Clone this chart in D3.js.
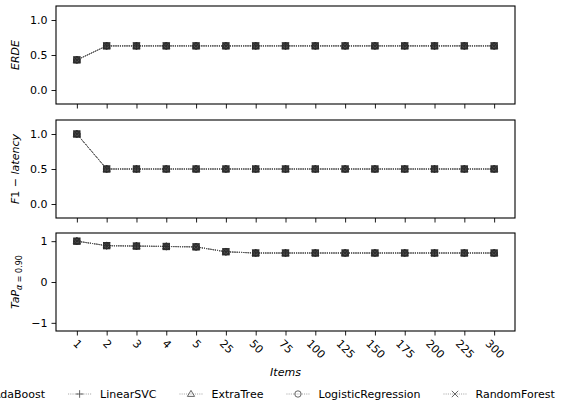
<!DOCTYPE html>
<html>
<head>
<meta charset="utf-8">
<script src="https://cdn.jsdelivr.net/npm/d3@7"></script>
<style>
  html, body { margin: 0; padding: 0; background: #fff; }
  svg { display: block; font-family: "DejaVu Sans", sans-serif; }
</style>
</head>
<body>
<svg id="chart" width="582" height="407"></svg>
<script>
// Number of items read before the decision
const items = ["1", "2", "3", "4", "5", "25", "50", "75", "100", "125", "150", "175", "200", "225", "300"];
const models = ["AdaBoost", "LinearSVC", "ExtraTree", "LogisticRegression", "RandomForest"];

// ERDE per model (rows follow `models`)
const erdeByModel = [
  [0.43, 0.63, 0.63, 0.63, 0.63, 0.63, 0.63, 0.63, 0.63, 0.63, 0.63, 0.63, 0.63, 0.63, 0.63],
  [0.43, 0.63, 0.63, 0.63, 0.63, 0.63, 0.63, 0.63, 0.63, 0.63, 0.63, 0.63, 0.63, 0.63, 0.63],
  [0.43, 0.63, 0.63, 0.63, 0.63, 0.63, 0.63, 0.63, 0.63, 0.63, 0.63, 0.63, 0.63, 0.63, 0.63],
  [0.43, 0.63, 0.63, 0.63, 0.63, 0.63, 0.63, 0.63, 0.63, 0.63, 0.63, 0.63, 0.63, 0.63, 0.63],
  [0.43, 0.63, 0.63, 0.63, 0.63, 0.63, 0.63, 0.63, 0.63, 0.63, 0.63, 0.63, 0.63, 0.63, 0.63]
];
// F1 - latency per model
const f1LatencyByModel = [
  [1.0, 0.5, 0.5, 0.5, 0.5, 0.5, 0.5, 0.5, 0.5, 0.5, 0.5, 0.5, 0.5, 0.5, 0.5],
  [1.0, 0.5, 0.5, 0.5, 0.5, 0.5, 0.5, 0.5, 0.5, 0.5, 0.5, 0.5, 0.5, 0.5, 0.5],
  [1.0, 0.5, 0.5, 0.5, 0.5, 0.5, 0.5, 0.5, 0.5, 0.5, 0.5, 0.5, 0.5, 0.5, 0.5],
  [1.0, 0.5, 0.5, 0.5, 0.5, 0.5, 0.5, 0.5, 0.5, 0.5, 0.5, 0.5, 0.5, 0.5, 0.5],
  [1.0, 0.5, 0.5, 0.5, 0.5, 0.5, 0.5, 0.5, 0.5, 0.5, 0.5, 0.5, 0.5, 0.5, 0.5]
];
// TaP (alpha = 0.90) per model
const tapByModel = [
  [1.0, 0.89, 0.88, 0.87, 0.86, 0.74, 0.71, 0.71, 0.71, 0.71, 0.71, 0.71, 0.71, 0.71, 0.71],
  [1.0, 0.89, 0.88, 0.87, 0.86, 0.74, 0.71, 0.71, 0.71, 0.71, 0.71, 0.71, 0.71, 0.71, 0.71],
  [1.0, 0.89, 0.88, 0.87, 0.86, 0.74, 0.71, 0.71, 0.71, 0.71, 0.71, 0.71, 0.71, 0.71, 0.71],
  [1.0, 0.89, 0.88, 0.87, 0.86, 0.74, 0.71, 0.71, 0.71, 0.71, 0.71, 0.71, 0.71, 0.71, 0.71],
  [1.0, 0.89, 0.88, 0.87, 0.86, 0.74, 0.71, 0.71, 0.71, 0.71, 0.71, 0.71, 0.71, 0.71, 0.71]
];

const erdeTicks = [0.0, 0.5, 1.0];
const f1Ticks = [0.0, 0.5, 1.0];
const tapTicks = [-1, 0, 1];

const svg = d3.select("#chart");
const FONT = 11;
const markerColor = "#2a2a2a";
const lineColor = "#555";

const left = 56, right = 515;
const x = d3.scaleLinear().domain([-0.7, items.length - 1 + 0.7]).range([left, right]);

const panels = [
  { data: erdeByModel, ticks: erdeTicks, domain: [-0.2, 1.2], top: 6, bottom: 104, fmt: d3.format(".1f"), label: "erde" },
  { data: f1LatencyByModel, ticks: f1Ticks, domain: [-0.2, 1.2], top: 120, bottom: 218, fmt: d3.format(".1f"), label: "f1" },
  { data: tapByModel, ticks: tapTicks, domain: [-1.2, 1.2], top: 233, bottom: 331, fmt: d => d < 0 ? "\u2212" + Math.abs(d) : String(d), label: "tap" }
];

// marker shapes, centred at origin
function drawMarker(g, kind) {
  const s = 3.2;
  const st = { stroke: markerColor, "stroke-width": 0.9, fill: "none" };
  const apply = sel => { Object.entries(st).forEach(([k, v]) => sel.attr(k, v)); return sel; };
  if (kind === 0) {
    apply(g.append("rect").attr("x", -s).attr("y", -s).attr("width", 2 * s).attr("height", 2 * s)).attr("fill", "#6a6a6a");
  } else if (kind === 1) {
    apply(g.append("path").attr("d", `M${-s - 0.6},0H${s + 0.6}M0,${-s - 0.6}V${s + 0.6}`));
  } else if (kind === 2) {
    apply(g.append("path").attr("d", `M0,${-s - 0.4}L${s + 0.4},${s * 0.75}L${-s - 0.4},${s * 0.75}Z`));
  } else if (kind === 3) {
    apply(g.append("circle").attr("r", s));
  } else {
    apply(g.append("path").attr("d", `M${-s},${-s}L${s},${s}M${-s},${s}L${s},${-s}`));
  }
}

panels.forEach((p, pi) => {
  const y = d3.scaleLinear().domain(p.domain).range([p.bottom, p.top]);
  const g = svg.append("g");

  // y axis
  const ya = g.append("g").attr("transform", `translate(${left},0)`)
    .call(d3.axisLeft(y).tickValues(p.ticks).tickFormat(p.fmt).tickSize(4.5).tickPadding(4));
  ya.select(".domain").remove();
  ya.selectAll("line").attr("stroke", "#000").attr("stroke-width", 0.9);
  ya.selectAll("text").attr("font-size", FONT).attr("font-family", "DejaVu Sans").attr("fill", "#000");

  // x axis ticks (labels only on the bottom panel)
  const xa = g.append("g").attr("transform", `translate(0,${p.bottom})`)
    .call(d3.axisBottom(x).tickValues(d3.range(items.length)).tickFormat(i => items[i]).tickSize(4.5).tickPadding(4));
  xa.select(".domain").remove();
  xa.selectAll("line").attr("stroke", "#000").attr("stroke-width", 0.9);
  if (pi < panels.length - 1) {
    xa.selectAll("text").remove();
  } else {
    xa.selectAll(".tick text")
      .attr("font-size", FONT).attr("font-family", "DejaVu Sans").attr("fill", "#000")
      .attr("text-anchor", "middle").attr("dy", null)
      .attr("dominant-baseline", "central")
      .each(function () {
        const w = this.getComputedTextLength();
        const h = 8;
        const half = (w + h) / (2 * Math.SQRT2);
        d3.select(this).attr("y", null)
          .attr("transform", `translate(0,${8 + half}) rotate(45)`);
      });
  }

  // series lines
  const line = d3.line().x((d, i) => x(i)).y(d => y(d));
  p.data.forEach(series => {
    g.append("path").datum(series)
      .attr("d", line)
      .attr("fill", "none")
      .attr("stroke", lineColor)
      .attr("stroke-width", 0.8)
      .attr("stroke-dasharray", "1,1.2");
  });
  // markers
  p.data.forEach((series, mi) => {
    series.forEach((v, i) => {
      const mg = g.append("g").attr("transform", `translate(${x(i)},${y(v)})`);
      drawMarker(mg, mi);
    });
  });

  // frame
  g.append("rect").attr("x", left).attr("y", p.top)
    .attr("width", right - left).attr("height", p.bottom - p.top)
    .attr("fill", "none").attr("stroke", "#000").attr("stroke-width", 1.1);

  // y label
  const cy = (p.top + p.bottom) / 2;
  const lab = svg.append("text")
    .attr("transform", `translate(19,${cy}) rotate(-90)`)
    .attr("text-anchor", "middle")
    .attr("font-size", FONT).attr("font-family", "DejaVu Sans").attr("fill", "#000");
  if (p.label === "erde") {
    lab.append("tspan").attr("font-style", "italic").text("ERDE");
  } else if (p.label === "f1") {
    lab.append("tspan").attr("font-style", "italic").text("F");
    lab.append("tspan").text("1 \u2212 ");
    lab.append("tspan").attr("font-style", "italic").text("latency");
  } else {
    lab.append("tspan").attr("font-style", "italic").text("TaP");
    lab.append("tspan").attr("font-style", "italic").attr("font-size", 8).attr("dy", 3).text("\u03b1");
    lab.append("tspan").attr("font-size", 8).text(" = 0.90");
  }
});

// x axis title
svg.append("text").attr("x", (left + right) / 2).attr("y", 376)
  .attr("text-anchor", "middle").attr("font-size", FONT).attr("font-style", "italic")
  .attr("font-family", "DejaVu Sans").text("Items");

// legend row
const legend = svg.append("g").attr("transform", "translate(0,394)");
let lx = -39;
models.forEach((m, mi) => {
  const item = legend.append("g").attr("transform", `translate(${lx},0)`);
  item.append("line").attr("x1", 0).attr("x2", 23).attr("y1", 0).attr("y2", 0)
    .attr("stroke", "#888").attr("stroke-width", 0.8).attr("stroke-dasharray", "1,1.2");
  const mg = item.append("g").attr("transform", "translate(11.5,0)");
  drawMarker(mg, mi);
  mg.selectAll("*").attr("stroke", "#555").attr("fill", mi === 0 ? "none" : "none");
  const t = item.append("text").attr("x", 32).attr("y", 0).attr("dy", "0.35em")
    .attr("font-size", FONT).attr("font-family", "DejaVu Sans").attr("fill", "#000").text(m);
  lx += 32 + t.node().getComputedTextLength() + 23;
});
</script>
</body>
</html>
